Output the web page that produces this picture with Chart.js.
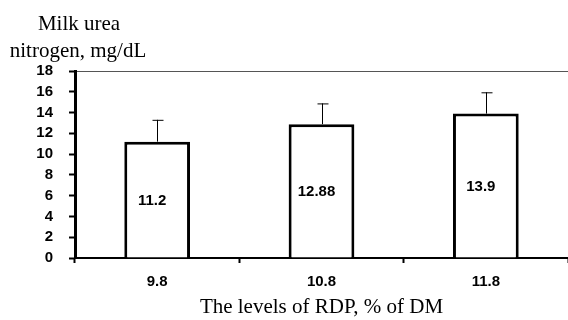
<!DOCTYPE html>
<html>
<head>
<meta charset="utf-8">
<script src="https://cdn.jsdelivr.net/npm/chart.js@4/dist/chart.umd.min.js"></script>
<style>
  html, body { margin: 0; padding: 0; background: #fff; }
  #wrap { width: 568px; height: 320px; position: relative; }
</style>
</head>
<body>
<div id="wrap"><canvas id="munChart" width="568" height="320"></canvas></div>
<script>
'use strict';

// ── Data ──────────────────────────────────────────────────────
const rdpLevels  = ['9.8', '10.8', '11.8'];
const munValues  = [11.2, 12.88, 13.9];
const munErrors  = [2.1, 2.0, 2.05];
const yTitleLines = ['Milk urea', 'nitrogen, mg/dL'];
const xTitleText  = 'The levels of RDP, % of DM';

const SERIF = "'Liberation Serif', 'Times New Roman', serif";
const SANS  = "'Liberation Sans', Arial, sans-serif";

// ── Plugins ───────────────────────────────────────────────────
const errorBars = {
  id: 'errorBars',
  afterDatasetsDraw(chart) {
    const { ctx, scales: { y } } = chart;
    const meta = chart.getDatasetMeta(0);
    ctx.save();
    ctx.strokeStyle = '#000';
    ctx.lineWidth = 1;
    meta.data.forEach((bar, i) => {
      const top = y.getPixelForValue(munValues[i] + munErrors[i]);
      const x = Math.round(bar.x) + 0.5;
      ctx.beginPath();
      ctx.moveTo(x, bar.y);
      ctx.lineTo(x, top);
      ctx.moveTo(x - 5, top + 0.5);
      ctx.lineTo(x + 6, top + 0.5);
      ctx.stroke();
    });
    ctx.restore();
  },
};

const barLabels = {
  id: 'barLabels',
  afterDatasetsDraw(chart) {
    const { ctx } = chart;
    const meta = chart.getDatasetMeta(0);
    ctx.save();
    ctx.fillStyle = '#000';
    ctx.font = `bold 15px ${SANS}`;
    ctx.textAlign = 'center';
    ctx.textBaseline = 'middle';
    meta.data.forEach((bar, i) => {
      ctx.fillText(String(munValues[i]), bar.x - 5, (bar.y + bar.base) / 2 + 1);
    });
    ctx.restore();
  },
};

// y title sits above the axis, two centred lines
const yTitle = {
  id: 'yTitle',
  afterDraw(chart) {
    const { ctx } = chart;
    ctx.save();
    ctx.fillStyle = '#000';
    ctx.font = `21px ${SERIF}`;
    ctx.textAlign = 'center';
    ctx.textBaseline = 'alphabetic';
    ctx.fillText(yTitleLines[0], 79, 30);
    ctx.fillText(yTitleLines[1], 78, 57);
    ctx.restore();
  },
};

// ── Chart ─────────────────────────────────────────────────────
new Chart(document.getElementById('munChart'), {
  type: 'bar',
  data: {
    labels: rdpLevels,
    datasets: [{
      data: munValues,
      backgroundColor: '#fff',
      borderColor: '#000',
      borderWidth: 3,
      borderSkipped: 'start',
      barPercentage: 0.4,
      categoryPercentage: 1,
    }],
  },
  options: {
    responsive: false,
    animation: false,
    devicePixelRatio: 1,
    layout: { padding: { top: 71, right: 0, bottom: 0, left: 0 } },
    scales: {
      x: {
        offset: true,
        afterFit(scale) { scale.height = 62; },
        grid: {
          offset: true,
          drawOnChartArea: false,
          tickLength: 5,
          tickColor: '#000',
          tickWidth: 2,
        },
        border: { color: '#000', width: 2 },
        ticks: {
          color: '#000',
          padding: 10,
          font: { family: SANS, size: 15, weight: 'bold' },
        },
        title: {
          display: true,
          text: xTitleText,
          color: '#000',
          font: { family: SERIF, size: 21 },
          padding: { top: 0, bottom: 0 },
        },
      },
      y: {
        min: 0,
        max: 18,
        afterFit(scale) { scale.width = 75; },
        grid: {
          drawOnChartArea: true,
          color: c => (c.tick && c.tick.value === 18 ? '#555' : 'transparent'),
          lineWidth: 1,
          tickLength: 6,
          tickColor: '#000',
          tickWidth: 2,
        },
        border: { color: '#000', width: 3 },
        ticks: {
          stepSize: 2,
          autoSkip: false,
          color: '#000',
          padding: 16,
          font: { family: SANS, size: 15, weight: 'bold' },
        },
      },
    },
    plugins: {
      legend: { display: false },
      tooltip: { enabled: false },
    },
  },
  plugins: [errorBars, barLabels, yTitle],
});
</script>
</body>
</html>
